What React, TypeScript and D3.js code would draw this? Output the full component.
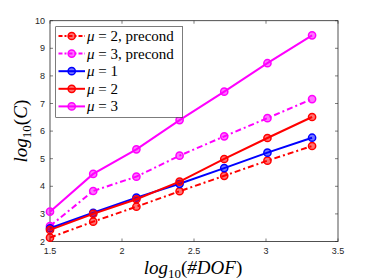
import * as d3 from 'd3';

const DOF = [1.5, 1.8, 2.1, 2.4, 2.71, 3.01, 3.32];
const MU2_PRE = [2.14, 2.72, 3.26, 3.82, 4.38, 4.93, 5.46];
const MU3_PRE = [2.56, 3.83, 4.35, 5.11, 5.81, 6.47, 7.16];
const MU1 = [2.48, 3.04, 3.59, 4.09, 4.66, 5.22, 5.76];
const MU2 = [2.42, 3.0, 3.53, 4.17, 4.99, 5.75, 6.51];
const MU3 = [3.08, 4.45, 5.34, 6.4, 7.43, 8.46, 9.47];
const X_TICKS = [1.5, 2, 2.5, 3, 3.5];
const Y_TICKS = [2, 3, 4, 5, 6, 7, 8, 9, 10];

const SERIES = [
  { mu: '2', extra: ', precond', values: MU2_PRE, color: '#ff0000', dash: '6,3,2,3' },
  { mu: '3', extra: ', precond', values: MU3_PRE, color: '#ff00ff', dash: '6,3,2,3' },
  { mu: '1', extra: '', values: MU1, color: '#0000ff', dash: null },
  { mu: '2', extra: '', values: MU2, color: '#ff0000', dash: null },
  { mu: '3', extra: '', values: MU3, color: '#ff00ff', dash: null },
];

const W = 374;
const H = 280;
const left = 50, right = 338, top = 20.7, bottom = 241.5;

export default function App() {
  const x = d3.scaleLinear().domain([1.5, 3.5]).range([left, right]);
  const y = d3.scaleLinear().domain([2, 10]).range([bottom, top]);
  const line = d3.line<number>().x((_, i) => x(DOF[i])).y(d => y(d));
  const axisColor = '#262626';
  const tickFont = 'Liberation Sans, Arial, sans-serif';
  const mathFont = 'Liberation Serif, Times New Roman, serif';
  const tl = 3;

  return (
    <svg width={W} height={H} style={{ position: 'absolute', left: 0, top: 0, background: '#fff' }}>
      <rect x={0} y={0} width={W} height={H} fill="#fff" />
      {/* ticks */}
      {X_TICKS.map(t => (
        <g key={'x' + t}>
          <line x1={x(t)} x2={x(t)} y1={bottom} y2={bottom - tl} stroke={axisColor} strokeWidth={0.6} />
          <line x1={x(t)} x2={x(t)} y1={top} y2={top + tl} stroke={axisColor} strokeWidth={0.6} />
          <text x={x(t)} y={bottom + 12.5} textAnchor="middle" fontSize={9} fontFamily={tickFont} fill={axisColor}>{t}</text>
        </g>
      ))}
      {Y_TICKS.map(t => (
        <g key={'y' + t}>
          <line x1={left} x2={left + tl} y1={y(t)} y2={y(t)} stroke={axisColor} strokeWidth={0.6} />
          <line x1={right} x2={right - tl} y1={y(t)} y2={y(t)} stroke={axisColor} strokeWidth={0.6} />
          <text x={left - 5} y={y(t) + 3} textAnchor="end" fontSize={9} fontFamily={tickFont} fill={axisColor}>{t}</text>
        </g>
      ))}
      <rect x={left} y={top} width={right - left} height={bottom - top} fill="none" stroke={axisColor} strokeWidth={0.8} />

      {/* series */}
      {SERIES.map((s, k) => (
        <g key={k}>
          <path d={line(s.values) || ''} fill="none" stroke={s.color} strokeWidth={2} strokeDasharray={s.dash || undefined} />
          {s.values.map((v, i) => (
            <circle key={i} cx={x(DOF[i])} cy={y(v)} r={3.6} fill={s.color} fillOpacity={0.55} stroke={s.color} strokeWidth={1.5} />
          ))}
        </g>
      ))}

      {/* legend */}
      <rect x={55.7} y={26.7} width={127} height={90.6} fill="#fff" stroke={axisColor} strokeWidth={0.6} />
      {SERIES.map((s, k) => {
        const ly = 36 + k * 17.6;
        return (
          <g key={'l' + k}>
            <line x1={58.5} x2={85} y1={ly} y2={ly} stroke={s.color} strokeWidth={2} strokeDasharray={s.dash ? '4,2,2,2' : undefined} />
            <circle cx={71.7} cy={ly} r={3.6} fill={s.color} fillOpacity={0.55} stroke={s.color} strokeWidth={1.5} />
            <text x={87} y={ly + 5} fontSize={15} fontFamily={mathFont} fill="#000">
              <tspan fontStyle="italic">μ</tspan>
              <tspan> = {s.mu}{s.extra}</tspan>
            </text>
          </g>
        );
      })}

      {/* axis labels */}
      <text x={193} y={273.5} textAnchor="middle" fontSize={19} fontFamily={mathFont} fontStyle="italic" fill="#000">
        log<tspan fontSize={13} fontStyle="normal" dy={4}>10</tspan><tspan dy={-4} fontStyle="normal">(</tspan>#DOF<tspan fontStyle="normal">)</tspan>
      </text>
      <text transform={`translate(27,${(top + bottom) / 2}) rotate(-90)`} textAnchor="middle" fontSize={19} fontFamily={mathFont} fontStyle="italic" fill="#000">
        log<tspan fontSize={13} fontStyle="normal" dy={4}>10</tspan><tspan dy={-4} fontStyle="normal">(</tspan>C<tspan fontStyle="normal">)</tspan>
      </text>
    </svg>
  );
}
